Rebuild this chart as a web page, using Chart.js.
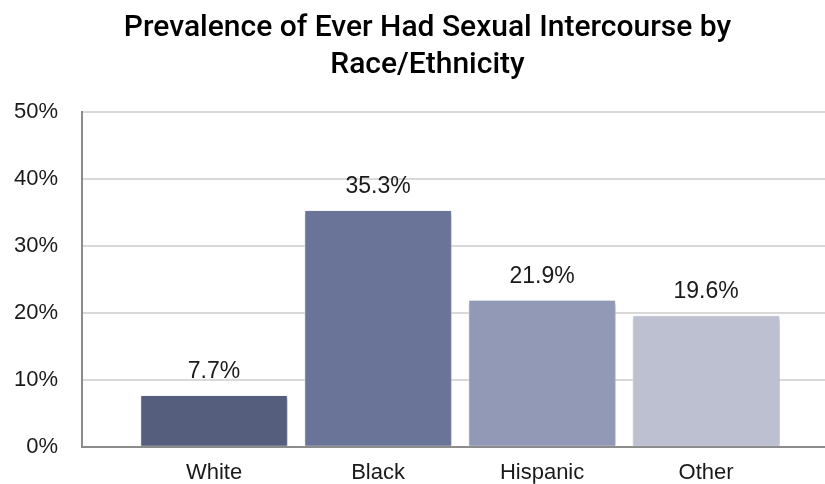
<!DOCTYPE html>
<html>
<head>
<meta charset="utf-8">
<script src="https://cdn.jsdelivr.net/npm/chart.js@4/dist/chart.umd.min.js"></script>
<style>
  html, body { margin: 0; padding: 0; background: #fff; }
  #wrap { width: 825px; height: 484px; }
</style>
</head>
<body>
<div id="wrap"><canvas id="raceChart" width="825" height="484"></canvas></div>
<script>
const categories = ["White", "Black", "Hispanic", "Other"];
const prevalence = [7.7, 35.3, 21.9, 19.6];
const barColors = ["#565e7e", "#6a7499", "#9199b6", "#bdc0d1"];
const yTicks = [0, 10, 20, 30, 40, 50];
const titleLines = ["Prevalence of Ever Had Sexual Intercourse by", "Race/Ethnicity"];

// x range in category units
const xMin = -0.805;
const xMax = 3.725;

// bar shadow, like the office-style chart
const barShadow = {
    id: "barShadow",
    beforeDatasetDraw(chart) {
        const ctx = chart.ctx;
        ctx.save();
        ctx.shadowColor = "rgba(0,0,0,0.28)";
        ctx.shadowBlur = 5;
        ctx.shadowOffsetX = 2;
        ctx.shadowOffsetY = 2;
    },
    afterDatasetDraw(chart) {
        chart.ctx.restore();
    }
};

// value labels above each bar
const valueLabels = {
    id: "valueLabels",
    afterDatasetsDraw(chart) {
        const ctx = chart.ctx;
        const meta = chart.getDatasetMeta(0);
        ctx.save();
        ctx.font = "23px 'Liberation Sans', Arial, sans-serif";
        ctx.fillStyle = "#1a1a1a";
        ctx.textAlign = "center";
        ctx.textBaseline = "bottom";
        meta.data.forEach((bar, i) => {
            ctx.fillText(prevalence[i].toFixed(1) + "%", bar.x, bar.y - 12);
        });
        ctx.restore();
    }
};

const ctx = document.getElementById("raceChart").getContext("2d");
new Chart(ctx, {
    type: "bar",
    data: {
        datasets: [{
            data: prevalence.map((v, i) => ({ x: i, y: v })),
            backgroundColor: barColors,
            borderColor: "rgba(255,255,255,0.7)",
            borderWidth: 1,
            barThickness: 147
        }]
    },
    options: {
        responsive: false,
        animation: false,
        // negative right padding moves the title centre to the right
        layout: { padding: { left: 0, right: -30, top: 0, bottom: 0 } },
        plugins: {
            legend: { display: false },
            tooltip: { enabled: false },
            title: {
                display: true,
                text: titleLines,
                color: "#000",
                font: { family: "Roboto, 'Liberation Sans', sans-serif", size: 30, weight: "500", lineHeight: 1.23 },
                padding: { top: 10, bottom: 28 }
            }
        },
        scales: {
            x: {
                type: "linear",
                min: xMin,
                max: xMax,
                bounds: "data",
                offset: false,
                afterDataLimits(scale) {
                    scale.min = xMin;
                    scale.max = xMax;
                },
                afterBuildTicks(scale) {
                    scale.ticks = categories.map((c, i) => ({ value: i }));
                    scale.min = xMin;
                    scale.max = xMax;
                },
                afterFit(scale) { scale.height = 37; },
                grid: { display: false, drawTicks: false },
                border: { color: "#8c8c8c", width: 2 },
                ticks: {
                    padding: 13,
                    color: "#1a1a1a",
                    font: { family: "'Liberation Sans', Arial, sans-serif", size: 22 },
                    callback: (v) => categories[v] || ""
                }
            },
            y: {
                min: 0,
                max: 50,
                afterBuildTicks(scale) {
                    scale.ticks = yTicks.map(v => ({ value: v }));
                },
                afterFit(scale) { scale.width = 82; },
                grid: { color: "#d9d9d9", lineWidth: 2, drawTicks: false },
                border: { color: "#8c8c8c", width: 2 },
                ticks: {
                    padding: 24,
                    color: "#1a1a1a",
                    font: { family: "'Liberation Sans', Arial, sans-serif", size: 22 },
                    callback: (v) => v + "%"
                }
            }
        }
    },
    plugins: [barShadow, valueLabels]
});
</script>
</body>
</html>
